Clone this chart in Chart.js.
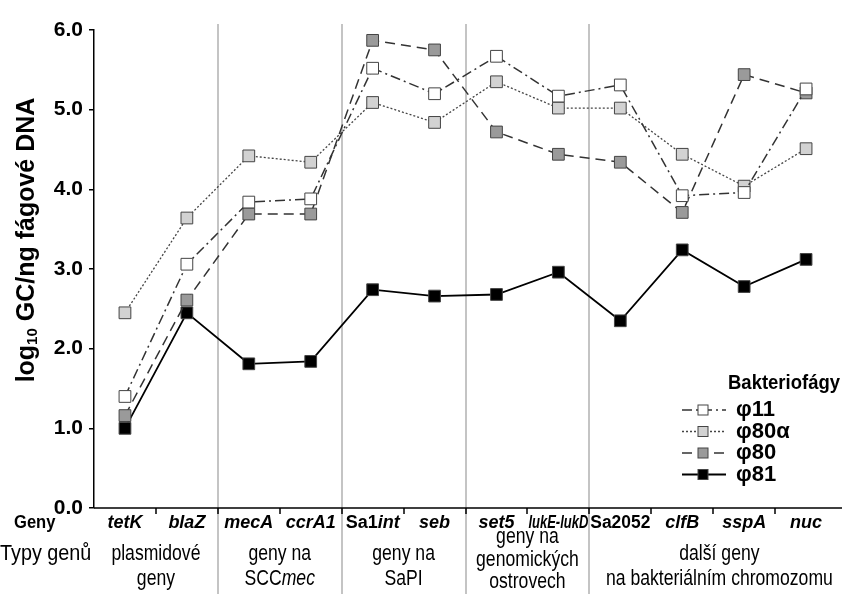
<!DOCTYPE html>
<html>
<head>
<meta charset="utf-8">
<script src="https://cdn.jsdelivr.net/npm/chart.js@4.4.0/dist/chart.umd.min.js"></script>
<style>
  body { margin: 0; background: #fff; }
  canvas { display: block; }
</style>
</head>
<body>
<canvas id="chart" width="842" height="594"></canvas>
<script>
// genes on the x axis, *...* marks the italic part of a label
const genes = ['*tetK*', '*blaZ*', '*mecA*', '*ccrA1*', 'Sa1*int*', '*seb*',
               '*set5*', '*lukE-lukD*', 'Sa2052', '*clfB*', '*sspA*', '*nuc*'];

// gene groups: label lines and position (in category units)
const groupLines = [['plasmidové', 'geny'], ['geny na', 'SCC*mec*'], ['geny na', 'SaPI'],
                    ['geny na', 'genomických', 'ostrovech'], ['další geny', 'na bakteriálním chromozomu']];
const groupCenters = [0.5, 2.5, 4.5, 6.5, 9.6];
const separators = [1.5, 3.5, 5.5, 7.5];

// log10 GC/ng phage DNA
const phi11  = [1.40, 3.06, 3.84, 3.88, 5.52, 5.20, 5.67, 5.17, 5.31, 3.92, 3.96, 5.26];
const phi80a = [2.45, 3.64, 4.42, 4.34, 5.09, 4.84, 5.35, 5.02, 5.02, 4.44, 4.04, 4.51];
const phi80  = [1.16, 2.61, 3.69, 3.69, 5.87, 5.75, 4.72, 4.44, 4.34, 3.71, 5.44, 5.21];
const phi81  = [1.00, 2.45, 1.81, 1.84, 2.74, 2.66, 2.68, 2.96, 2.35, 3.24, 2.78, 3.12];

const seriesNames = ['φ11', 'φ80α', 'φ80', 'φ81'];
const yMin = 0, yMax = 6, yStep = 1;

const FONT = "'Liberation Sans', Arial, sans-serif";

function pts(arr) {
  return arr.map((v, i) => ({x: i, y: v}));
}

function fontOf(italic, bold, size) {
  return (italic ? 'italic ' : '') + (bold ? 'bold ' : '') + size + 'px ' + FONT;
}

// draws text with *italic* parts, centred (or left aligned), squeezed by sx
function drawRich(ctx, str, cx, y, size, bold, sx, maxW, align) {
  const parts = str.split('*');
  let total = 0;
  parts.forEach((p, i) => { ctx.font = fontOf(i % 2, bold, size); total += ctx.measureText(p).width; });
  let k = sx || 1;
  if (maxW && total * k > maxW) k = maxW / total;
  ctx.save();
  ctx.translate(cx, y);
  ctx.scale(k, 1);
  let x = align === 'left' ? 0 : -total / 2;
  ctx.textAlign = 'left';
  ctx.textBaseline = 'middle';
  ctx.fillStyle = '#000';
  parts.forEach((p, i) => {
    ctx.font = fontOf(i % 2, bold, size);
    ctx.fillText(p, x, 0);
    x += ctx.measureText(p).width;
  });
  ctx.restore();
}

const decor = {
  id: 'decor',
  beforeDatasetsDraw(chart) {
    const ctx = chart.ctx;
    const xs = chart.scales.x;
    const area = chart.chartArea;
    ctx.save();
    // group separators
    ctx.strokeStyle = '#c4c4c4';
    ctx.lineWidth = 2;
    separators.forEach(s => {
      const px = Math.round(xs.getPixelForValue(s));
      ctx.beginPath();
      ctx.moveTo(px, area.top - 6);
      ctx.lineTo(px, chart.height);
      ctx.stroke();
    });
    // x axis line and ticks
    ctx.strokeStyle = '#000';
    ctx.lineWidth = 1.5;
    ctx.beginPath();
    ctx.moveTo(area.left, area.bottom);
    ctx.lineTo(chart.width, area.bottom);
    for (let i = 0; i < genes.length - 1; i++) {
      const px = Math.round(xs.getPixelForValue(i + 0.5));
      ctx.moveTo(px, area.bottom);
      ctx.lineTo(px, area.bottom + 6);
    }
    ctx.stroke();
    ctx.restore();
  },
  afterDraw(chart) {
    const ctx = chart.ctx;
    const xs = chart.scales.x;
    ctx.save();

    // gene labels
    drawRich(ctx, 'Geny', 14, 523, 18, true, 0.92, 0, 'left');
    genes.forEach((g, i) => {
      drawRich(ctx, g, xs.getPixelForValue(i), 523, 18, true, 1, 60);
    });

    // gene groups
    drawRich(ctx, 'Typy genů', 0, 554, 22, false, 0.9, 0, 'left');
    groupLines.forEach((lines, gi) => {
      const px = xs.getPixelForValue(groupCenters[gi]);
      const y0 = lines.length === 3 ? 537 : 554;
      const dy = lines.length === 3 ? 22.5 : 24.5;
      lines.forEach((ln, li) => drawRich(ctx, ln, px, y0 + li * dy, 22, false, 0.8));
    });

    // y axis title with subscript
    ctx.save();
    ctx.translate(27, 240);
    ctx.rotate(-Math.PI / 2);
    ctx.fillStyle = '#000';
    ctx.textBaseline = 'middle';
    ctx.textAlign = 'left';
    const big = 'bold 25px ' + FONT, small = 'bold 15px ' + FONT;
    const t1 = 'log', t2 = '10', t3 = ' GC/ng fágové DNA';
    ctx.font = big; const w1 = ctx.measureText(t1).width, w3 = ctx.measureText(t3).width;
    ctx.font = small; const w2 = ctx.measureText(t2).width;
    let x = -(w1 + w2 + w3) / 2;
    ctx.font = big; ctx.fillText(t1, x, 0); x += w1;
    ctx.font = small; ctx.fillText(t2, x, 6); x += w2;
    ctx.font = big; ctx.fillText(t3, x, 0);
    ctx.restore();

    // legend
    ctx.fillStyle = '#000';
    ctx.textBaseline = 'middle';
    ctx.textAlign = 'left';
    ctx.font = 'bold 21px ' + FONT;
    ctx.fillText('Bakteriofágy', 728, 383, 112);
    chart.data.datasets.forEach((ds, i) => {
      const y = 410 + i * 21.5;
      ctx.save();
      ctx.strokeStyle = ds.borderColor;
      ctx.lineWidth = ds.borderWidth;
      ctx.setLineDash(ds.borderDash || []);
      ctx.beginPath();
      ctx.moveTo(682, y);
      ctx.lineTo(726, y);
      ctx.stroke();
      ctx.setLineDash([]);
      ctx.fillStyle = ds.pointBackgroundColor;
      ctx.strokeStyle = ds.pointBorderColor;
      ctx.lineWidth = 1;
      ctx.fillRect(698, y - 5, 10, 10);
      ctx.strokeRect(698, y - 5, 10, 10);
      ctx.restore();
      ctx.font = 'bold 22px ' + FONT;
      ctx.fillText(ds.label, 736, y);
    });
    ctx.restore();
  }
};

function series(label, values, fill, dash, width, lineColor) {
  return {
    label: label,
    data: pts(values),
    borderColor: lineColor,
    borderWidth: width,
    borderDash: dash,
    pointStyle: 'rect',
    pointRadius: 8.3,
    pointBackgroundColor: fill,
    pointBorderColor: '#444',
    pointBorderWidth: 1,
    fill: false,
    tension: 0
  };
}

new Chart(document.getElementById('chart'), {
  type: 'line',
  data: {
    datasets: [
      series(seriesNames[0], phi11, '#ffffff', [10, 4, 2, 4], 1.5, '#333'),
      series(seriesNames[1], phi80a, '#d2d2d2', [2, 2], 1.3, '#444'),
      series(seriesNames[2], phi80, '#9a9a9a', [10, 6], 1.5, '#333'),
      series(seriesNames[3], phi81, '#000000', [], 1.8, '#000')
    ]
  },
  options: {
    responsive: false,
    animation: false,
    devicePixelRatio: 1,
    layout: { padding: { top: 30, right: 0, bottom: 86, left: 0 } },
    plugins: { legend: { display: false }, tooltip: { enabled: false } },
    scales: {
      x: { type: 'linear', min: -0.5, max: 11.43, display: false },
      y: {
        min: yMin, max: yMax,
        afterFit(scale) { scale.width = 94; },
        ticks: {
          stepSize: yStep,
          color: '#000',
          padding: 6,
          font: { family: FONT, size: 21, weight: 'bold' },
          callback: v => v.toFixed(1)
        },
        grid: { drawOnChartArea: false, tickLength: 5, color: '#000', lineWidth: 1.5 },
        border: { color: '#000', width: 1.5 }
      }
    }
  },
  plugins: [decor]
});
</script>
</body>
</html>
